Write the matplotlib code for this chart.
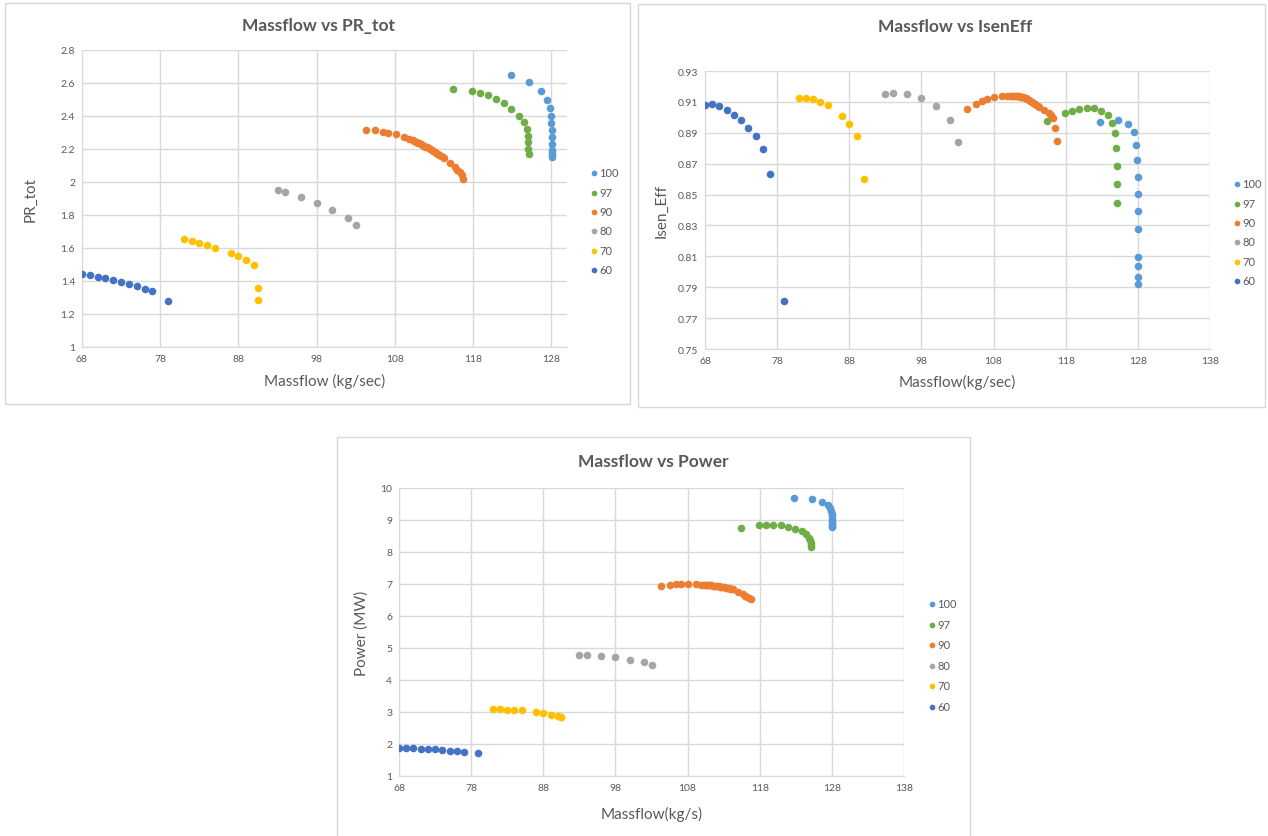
import numpy as np
import matplotlib
matplotlib.use("Agg")
from matplotlib import pyplot as plt
from matplotlib.patches import Rectangle
from matplotlib.ticker import FuncFormatter, MultipleLocator

nan = np.nan

speeds = ["100", "97", "90", "80", "70", "60"]
colors = ["#5B9BD5", "#70AD47", "#ED7D31", "#A5A5A5", "#FFC000", "#4472C4"]

# speed line 100
mf_100 = [122.8, 125.2, 126.65, 127.45, 127.8, 127.95, 128.0, 128.02, 128.03, 128.04, 128.05, 128.05, 128.06, 128.06]
pr_100 = [2.648, 2.608, 2.551, 2.500, 2.450, 2.399, 2.355, 2.314, 2.274, 2.233, 2.193, 2.177, 2.163, 2.151]
eff_100 = [0.8967, 0.8984, 0.8956, 0.8904, 0.8822, 0.8722, 0.8614, 0.8504, 0.8394, 0.8275, 0.8093, 0.8039, 0.7965, 0.7924]
pw_100 = [9.69, 9.67, 9.57, 9.47, 9.38, 9.29, 9.20, 9.12, 9.04, 8.97, 8.90, 8.85, 8.81, 8.78]

# speed line 97
mf_97 = [115.4, 117.9, 118.9, 119.9, 120.9, 121.9, 122.9, 123.85, 124.45, 124.85, 125.0, 125.05, 125.05, 125.1]
pr_97 = [2.563, 2.553, 2.541, 2.525, 2.503, 2.477, 2.442, 2.400, 2.361, 2.323, 2.280, 2.240, 2.201, 2.167]
eff_97 = [0.8976, 0.9027, 0.9043, 0.9054, 0.9061, 0.9059, 0.9043, 0.9015, 0.8963, 0.8896, 0.8800, 0.8688, 0.8571, 0.8445]
pw_97 = [8.76, 8.84, 8.85, 8.85, 8.84, 8.79, 8.73, 8.65, 8.55, 8.45, 8.37, 8.28, 8.21, 8.15]

# speed line 90
mf_90 = [104.25, 105.5, 106.45, 107.15, 108.1, 109.1, 109.85,
         110.3, 110.5, 110.7, 110.9, 111.1, 111.3, 111.5, 111.7, 111.9, 112.1, 112.3,
         112.5, 112.7, 112.9, 113.1, 113.3, 113.5, 113.7, 113.9, 114.1, 114.3,
         115.0, 115.7, 116.0, 116.3, 116.55, 116.75]
pr_90 = [2.318, 2.314, 2.305, 2.300, 2.288, 2.274, 2.262,
         2.252, 2.248, 2.243, 2.239, 2.234, 2.230, 2.225, 2.220, 2.215, 2.210, 2.205,
         2.200, 2.194, 2.189, 2.183, 2.177, 2.171, 2.165, 2.159, 2.152, 2.146,
         2.115, 2.089, 2.074, 2.060, 2.042, 2.017]
eff_90 = [0.9051, 0.9086, 0.9107, 0.9118, 0.9129, 0.9138, 0.9140,
          0.9141, 0.9141, 0.9141, 0.9140, 0.9139, 0.9138, 0.9136, 0.9134, 0.9132, 0.9129, 0.9126,
          0.9122, 0.9118, 0.9113, 0.9108, 0.9102, 0.9096, 0.9089, 0.9082, 0.9075, 0.9068,
          0.9049, 0.9030, 0.9017, 0.8998, 0.8934, 0.8844]
pw_90 = [6.93, 6.97, 6.99, 6.99, 6.99, 6.99, 6.98,
         6.975, 6.972, 6.968, 6.964, 6.960, 6.955, 6.950, 6.944, 6.938, 6.932, 6.925,
         6.918, 6.910, 6.902, 6.893, 6.884, 6.874, 6.864, 6.853, 6.842, 6.830,
         6.76, 6.69, 6.64, 6.60, 6.56, 6.52]

# speed line 80
mf_80 = [93.0, 94.0, 96.0, 98.0, 100.0, 102.0, 103.0]
pr_80 = [1.951, 1.940, 1.910, 1.874, 1.830, 1.779, 1.740]
eff_80 = [0.9149, 0.9155, 0.9151, 0.9127, 0.9073, 0.8984, 0.8841]
pw_80 = [4.78, 4.78, 4.76, 4.71, 4.64, 4.55, 4.48]

# speed line 70
mf_70 = [81.0, 82.0, 83.0, 84.0, 85.0, 87.0, 88.0, 89.0, 90.0, 90.45, 90.47]
pr_70 = [1.653, 1.643, 1.631, 1.617, 1.601, 1.570, 1.552, 1.530, 1.494, 1.360, 1.287]
eff_70 = [0.9123, 0.9123, 0.9116, 0.9099, 0.9077, 0.9006, 0.8960, 0.8880, 0.8599, nan, nan]
pw_70 = [3.08, 3.08, 3.07, 3.06, 3.05, 2.99, 2.96, 2.92, 2.87, 2.85, 2.84]

# speed line 60
mf_60 = [68.0, 69.0, 70.0, 71.0, 72.0, 73.0, 74.0, 75.0, 76.0, 77.0, 79.0]
pr_60 = [1.443, 1.435, 1.425, 1.417, 1.405, 1.395, 1.380, 1.368, 1.354, 1.338, 1.277]
eff_60 = [0.9082, 0.9086, 0.9075, 0.9050, 0.9017, 0.8982, 0.8932, 0.8876, 0.8794, 0.8636, 0.7814]
pw_60 = [1.87, 1.87, 1.87, 1.85, 1.84, 1.83, 1.81, 1.79, 1.77, 1.75, 1.72]

massflows = [mf_100, mf_97, mf_90, mf_80, mf_70, mf_60]
pr_all = [pr_100, pr_97, pr_90, pr_80, pr_70, pr_60]
eff_all = [eff_100, eff_97, eff_90, eff_80, eff_70, eff_60]
pw_all = [pw_100, pw_97, pw_90, pw_80, pw_70, pw_60]

W, H = 1268, 837
GREY_TXT = "#595959"
GRID = "#D9D9D9"

plt.rcParams['font.family'] = ['Lato', 'DejaVu Sans']

fig = plt.figure(figsize=(W / 100, H / 100), dpi=100)
fig.patch.set_facecolor("white")


def px_rect(x0, y0, x1, y1):
    return [x0 / W, 1 - y1 / H, (x1 - x0) / W, (y1 - y0) / H]


def chart_box(x0, y0, x1, y1):
    l, b, w, h = px_rect(x0, y0, x1, y1)
    fig.add_artist(Rectangle((l, b), w, h, transform=fig.transFigure,
                             facecolor="none", edgecolor=GRID, linewidth=1))


def style_axes(ax, xlim, ylim, ystep, yoffset, yfmt):
    ax.set_xlim(*xlim)
    ax.set_ylim(*ylim)
    ax.xaxis.set_major_locator(MultipleLocator(10, offset=8))
    ax.yaxis.set_major_locator(MultipleLocator(ystep, offset=yoffset))
    ax.yaxis.set_major_formatter(FuncFormatter(yfmt))
    ax.xaxis.set_major_formatter(FuncFormatter(lambda v, p: f"{v:.0f}"))
    ax.grid(True, color=GRID, linewidth=1)
    ax.set_axisbelow(True)
    for s in ["top", "right"]:
        ax.spines[s].set_visible(False)
    for s in ["left", "bottom"]:
        ax.spines[s].set_color(GRID)
    ax.tick_params(length=0, labelsize=7.5, colors=GREY_TXT, pad=5)


def draw(ax, ydata):
    for name, col, xs, ys in zip(speeds, colors, massflows, ydata):
        ax.scatter(xs, ys, s=30, color=col, linewidths=0, label=name, zorder=3)


def add_legend(ax, x, y, spacing):
    ax.legend(loc="center left", bbox_to_anchor=(x / W, 1 - y / H),
              bbox_transform=fig.transFigure, frameon=False, fontsize=8,
              borderpad=0, borderaxespad=0, handlelength=0.6,
              handletextpad=0.15, labelspacing=spacing, markerscale=0.75,
              labelcolor=GREY_TXT)


# chart 1: pressure ratio
chart_box(5, 4, 630, 405)
ax1 = fig.add_axes(px_rect(82, 51, 567, 348))
draw(ax1, pr_all)
style_axes(ax1, (68, 130), (1, 2.8), 0.2, 0, lambda v, p: f"{round(v, 2):g}")
ax1.set_xlabel("Massflow (kg/sec)", fontsize=11, color=GREY_TXT)
ax1.set_ylabel("PR_tot", fontsize=11, color=GREY_TXT)
ax1.xaxis.set_label_coords(0.5, -0.088)
ax1.yaxis.set_label_coords(-0.092, 0.5)
add_legend(ax1, 591, 222, 0.75)
fig.text(318 / W, 1 - 26 / H, "Massflow vs PR_tot", ha="center", va="center",
         fontsize=12.5, fontweight="bold", color=GREY_TXT)

# chart 2: isentropic efficiency
chart_box(638, 5, 1265, 408)
ax2 = fig.add_axes(px_rect(705, 72, 1210, 350))
draw(ax2, eff_all)
style_axes(ax2, (68, 138), (0.75, 0.93), 0.02, 0.01, lambda v, p: f"{v:.2f}")
ax2.set_xlabel("Massflow(kg/sec)", fontsize=11, color=GREY_TXT)
ax2.set_ylabel("Isen_Eff", fontsize=11, color=GREY_TXT)
ax2.xaxis.set_label_coords(0.5, -0.09)
ax2.yaxis.set_label_coords(-0.072, 0.5)
add_legend(ax2, 1234, 233, 0.75)
fig.text(955 / W, 1 - 27 / H, "Massflow vs IsenEff", ha="center", va="center",
         fontsize=12.5, fontweight="bold", color=GREY_TXT)

# chart 3: power
chart_box(337, 438, 970, 845)
ax3 = fig.add_axes(px_rect(399, 489, 904, 777))
draw(ax3, pw_all)
style_axes(ax3, (68, 138), (1, 10), 1, 0, lambda v, p: f"{v:.0f}")
ax3.set_xlabel("Massflow(kg/s)", fontsize=11, color=GREY_TXT)
ax3.set_ylabel("Power (MW)", fontsize=11, color=GREY_TXT)
ax3.xaxis.set_label_coords(0.5, -0.105)
ax3.yaxis.set_label_coords(-0.06, 0.5)
add_legend(ax3, 929, 656, 0.85)
fig.text(653 / W, 1 - 462 / H, "Massflow vs Power", ha="center", va="center",
         fontsize=12.5, fontweight="bold", color=GREY_TXT)

fig.savefig("out.png", dpi=100)
